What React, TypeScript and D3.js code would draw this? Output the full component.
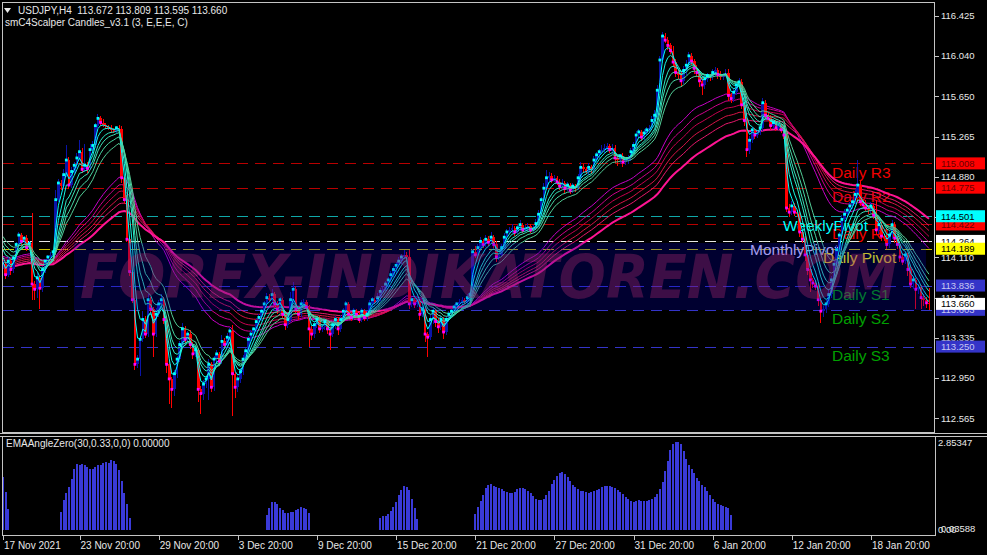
import React, { useEffect } from 'react';
import * as d3 from 'd3';

const W = 987;
const H = 555;

// ---------- price data (H4 closes) ----------
const firstOpen = 114.02;
const closes = [
  114.04, 113.94, 114.07, 113.99, 114.10, 114.23, 114.32, 114.26, 114.29, 114.20,
  114.24, 113.85, 113.80, 113.91, 113.81, 113.99, 114.07, 114.11, 114.13, 114.16,
  114.66, 114.82, 114.79, 114.90, 115.04, 114.80, 114.93, 114.99, 115.06, 115.12,
  114.95, 114.99, 114.96, 115.14, 115.18, 115.37, 115.44, 115.40, 115.38, 115.36,
  115.35, 115.33, 115.32, 115.35, 115.34, 114.87, 114.66, 114.28, 113.97, 113.70,
  113.08, 113.13, 113.32, 113.51, 113.37, 113.70, 113.61, 113.37, 113.56, 113.66,
  113.70, 113.51, 113.08, 112.94, 112.84, 112.99, 113.13, 113.27, 113.42, 113.32,
  113.37, 113.27, 113.18, 113.22, 112.84, 112.80, 112.89, 112.94, 113.08, 112.86,
  113.13, 113.18, 113.11, 113.30, 113.27, 113.34, 113.40, 112.99, 112.86, 112.94,
  113.01, 113.13, 113.21, 113.32, 113.37, 113.42, 113.49, 113.53, 113.59, 113.66,
  113.72, 113.70, 113.75, 113.66, 113.61, 113.70, 113.56, 113.46, 113.51, 113.70,
  113.80, 113.61, 113.56, 113.66, 113.68, 113.63, 113.42, 113.37, 113.46, 113.51,
  113.42, 113.44, 113.49, 113.42, 113.37, 113.46, 113.51, 113.42, 113.51, 113.59,
  113.66, 113.56, 113.53, 113.59, 113.56, 113.51, 113.59, 113.53, 113.56, 113.66,
  113.70, 113.68, 113.72, 113.78, 113.80, 113.85, 113.89, 113.94, 113.99, 114.03,
  114.07, 114.11, 114.13, 114.11, 113.66, 113.70, 113.66, 113.68, 113.56, 113.61,
  113.37, 113.34, 113.51, 113.59, 113.49, 113.44, 113.51, 113.39, 113.51, 113.56,
  113.59, 113.63, 113.66, 113.68, 113.70, 113.68, 113.72, 113.75, 114.16, 114.13,
  114.20, 114.26, 114.23, 114.28, 114.25, 114.30, 114.23, 114.11, 114.13, 114.20,
  114.30, 114.35, 114.37, 114.39, 114.35, 114.39, 114.42, 114.37, 114.39, 114.41,
  114.37, 114.39, 114.43, 114.52, 114.66, 114.77, 114.87, 114.89, 114.85, 114.87,
  114.83, 114.79, 114.82, 114.77, 114.80, 114.75, 114.79, 114.77, 114.87, 114.97,
  114.95, 114.93, 114.97, 114.95, 115.04, 115.09, 115.12, 115.14, 115.16, 115.17,
  115.14, 115.16, 115.06, 115.04, 115.08, 115.02, 115.04, 115.06, 115.12, 115.18,
  115.28, 115.31, 115.26, 115.30, 115.33, 115.35, 115.42, 115.47, 115.71, 116.00,
  116.23, 116.19, 116.14, 116.09, 115.98, 115.88, 115.86, 115.80, 115.90, 115.95,
  116.04, 115.99, 115.92, 115.88, 115.80, 115.76, 115.82, 115.85, 115.84, 115.88,
  115.90, 115.86, 115.84, 115.86, 115.88, 115.66, 115.63, 115.69, 115.76, 115.79,
  115.57, 115.42, 115.14, 115.23, 115.33, 115.28, 115.30, 115.35, 115.59, 115.47,
  115.44, 115.37, 115.40, 115.35, 115.37, 115.33, 115.28, 114.58, 114.54, 114.60,
  114.54, 114.52, 114.35, 114.28, 114.13, 113.99, 113.89, 113.86, 113.83, 113.70,
  113.59, 113.61, 113.66, 113.75, 113.89, 114.04, 114.18, 114.32, 114.47, 114.52,
  114.56, 114.60, 114.64, 114.71, 114.80, 114.64, 114.61, 114.58, 114.56, 114.60,
  114.51, 114.37, 114.42, 114.31, 114.29, 114.23, 114.32, 114.42, 114.29, 114.23,
  114.11, 114.07, 114.13, 113.99, 113.85, 113.89, 113.80, 113.82, 113.72, 113.70,
  113.67, 113.66,
];
// upper / lower wick lengths beyond the body, in 0.01 units
const hiExt = [
  3,2,4,2,3,2,3,2,2,3, 2,29,3,5,2,3,2,2,3,2, 9,4,3,5,14,3,4,3,5,11, 4,20,3,5,4,3,4,2,3,2,
  2,3,2,2,3,3,2,4,3,2, 2,4,3,8,3,5,3,2,6,4, 5,3,2,3,2,4,3,3,6,3, 3,4,2,3,2,3,4,3,5,2,
  3,4,2,6,3,4,3,6,2,3, 3,4,3,3,4,2,3,3,2,3, 4,3,5,2,3,3,2,3,4,7, 7,3,2,4,3,2,2,3,3,2,
  3,2,3,2,2,3,3,2,4,3, 3,2,2,3,2,2,3,2,3,4, 3,2,4,3,2,3,3,4,3,3, 4,3,5,3,7,3,2,3,2,3,
  2,2,4,3,2,3,3,2,3,3, 2,3,2,3,3,2,3,2,3,6, 3,4,2,4,3,5,2,3,2,3, 4,3,3,4,2,3,4,2,3,3,
  2,3,4,4,3,5,7,4,3,3, 2,3,4,2,3,2,3,2,4,5, 3,2,4,2,4,3,3,4,3,3, 2,3,2,3,2,3,2,3,4,3,
  4,3,2,4,3,3,4,5,5,4, 4,3,3,2,4,3,2,3,4,5, 4,3,2,3,2,3,4,3,2,3, 3,2,3,2,3,3,2,4,3,4,
  3,2,3,4,3,2,3,4,5,3, 2,3,3,2,3,2,3,2,4,5, 3,2,3,2,3,2,3,2,3,4, 2,3,4,5,4,3,4,3,4,5,
  3,4,3,5,24,4,3,5,3,4, 3,15,4,3,2,3,5,4,3,2, 3,4,3,2,3,4,2,3,2,3, 3,14,
];
const loExt = [
  3,4,2,5,3,2,3,4,2,3, 3,15,10,8,20,4,3,5,3,2, 3,2,4,3,2,4,3,2,3,2, 3,2,4,2,3,2,2,3,2,2,
  2,3,2,2,2,5,4,3,4,3, 5,4,16,3,4,3,4,22,3,3, 3,4,8,24,18,6,4,3,3,4, 3,4,5,3,12,20,6,4,20,5,
  4,3,5,3,4,2,3,41,10,5, 4,3,3,2,3,2,3,2,3,2, 3,2,3,4,5,3,4,5,3,2, 3,4,5,3,2,3,17,6,4,3,
  4,3,3,5,15,3,4,6,3,2, 3,4,3,2,4,3,2,3,3,2, 3,2,2,3,2,2,3,2,2,3, 2,3,2,3,5,3,4,3,5,3,
  8,19,3,4,5,6,3,7,3,2, 3,2,3,2,3,2,2,3,2,3, 2,3,3,2,3,2,3,5,3,2, 2,3,2,3,4,2,3,3,2,3,
  3,2,2,3,2,3,2,3,3,2, 3,4,3,5,3,4,3,4,2,3, 3,2,3,4,3,2,3,2,3,3, 3,4,5,6,4,5,3,4,3,2,
  2,3,4,3,2,3,2,3,2,3, 3,3,4,3,5,4,4,6,3,4, 3,4,5,4,6,10,4,3,4,3, 3,4,3,3,2,5,4,3,3,2,
  4,5,7,4,3,4,3,2,3,4, 3,4,3,3,2,3,4,4,5,3, 4,3,5,4,6,5,12,5,4,6, 11,6,4,3,3,2,3,2,3,2,
  3,2,3,2,3,4,3,3,4,3, 4,5,4,5,3,4,3,4,5,4, 5,4,3,6,4,5,19,5,11,6, 5,6,
];

// ---------- EMA ribbons ----------
const fastPeriods = [3, 5, 8, 10, 13, 17];
const fastSeeds = [114.08, 114.14, 114.22, 114.26, 114.30, 114.34];
const fastColors = ['#00ffff', '#19f5e0', '#2debc8', '#3de0b4', '#48d6a4', '#52cc96'];
const slowPeriods = [40, 47, 54, 62, 70, 84];
const slowSeeds = [114.12, 114.10, 114.08, 114.06, 114.04, 114.02];
const slowColors = ['#c800c8', '#d0008c', '#c80050', '#d81448', '#e8186c', '#ff1493'];

// ---------- EMAAngleZero histogram ----------
const angleSegStarts = [0, 22, 100, 143, 179];
const angleSeg0 = [1.73, 1.23, 0.68];
const angleSeg1 = [0.59, 0.97, 1.19, 1.38, 1.65, 1.98, 2.14, 2.10, 2.14, 2.12, 2.03, 1.99, 1.99, 2.03,
  2.12, 2.12, 2.17, 2.21, 2.16, 2.27, 2.24, 2.14, 1.95, 1.58, 1.19, 0.83, 0.39];
const angleSeg2 = [0.49, 0.72, 0.90, 0.90, 0.83, 0.72, 0.65, 0.54, 0.54, 0.57, 0.57, 0.65, 0.68, 0.76,
  0.70, 0.68, 0.54];
const angleSeg3 = [0.38, 0.45, 0.45, 0.51, 0.62, 0.75, 0.90, 1.12, 1.30, 1.42, 1.40, 1.30, 1.00, 0.70, 0.36];
const angleSeg4 = [
  0.52, 0.74, 0.94, 1.15, 1.35, 1.45, 1.49, 1.44, 1.40, 1.36,
  1.32, 1.28, 1.23, 1.21, 1.19, 1.24, 1.32, 1.37, 1.36, 1.33,
  1.28, 1.20, 1.10, 1.02, 0.96, 0.96, 1.02, 1.12, 1.28, 1.48,
  1.62, 1.76, 1.85, 1.87, 1.82, 1.72, 1.58, 1.46, 1.38, 1.32,
  1.28, 1.25, 1.22, 1.21, 1.23, 1.26, 1.30, 1.34, 1.38, 1.42,
  1.43, 1.43, 1.41, 1.36, 1.30, 1.24, 1.16, 1.08, 1.02, 0.95,
  0.92, 0.94, 0.97, 0.95, 0.93, 0.94, 0.98, 1.02, 1.08, 1.18,
  1.32, 1.55, 1.92, 2.25, 2.58, 2.80, 2.85, 2.85, 2.78, 2.55,
  2.30, 2.10, 1.98, 1.85, 1.70, 1.58, 1.47, 1.38, 1.28, 1.15,
  1.02, 0.92, 0.85, 0.80, 0.77, 0.73, 0.70, 0.50,
];
const angleMax = 2.85347;

// ---------- axes ----------
const priceTicks = [116.425, 116.040, 115.650, 115.265, 114.880, 114.495, 114.110, 113.720, 113.335, 112.950, 112.565];
const timeTickIdx = [0, 29, 59, 89, 119, 149, 179, 209, 239, 269, 299, 329];
const timeTickLabels = ['17 Nov 2021', '23 Nov 20:00', '29 Nov 20:00', '3 Dec 20:00', '9 Dec 20:00', '15 Dec 20:00',
  '21 Dec 20:00', '27 Dec 20:00', '31 Dec 20:00', '6 Jan 20:00', '12 Jan 20:00', '18 Jan 20:00'];

// ---------- pivot levels ----------
const pivotNames = ['Daily R3', 'Daily R2', 'Daily R1', 'WeeklyPivot', 'MonthlyPivot', 'Daily Pivot', 'Daily S1', 'Daily S2', 'Daily S3'];
const pivotValues = [115.008, 114.775, 114.422, 114.501, 114.264, 114.189, 113.836, 113.603, 113.250];
const pivotLineColors = ['#b80000', '#b80000', '#b80000', '#10a8a8', '#e6e6e6', '#c8c000', '#3434c8', '#3434c8', '#3434c8'];
const pivotTextColors = ['#f20000', '#f20000', '#f20000', '#00ffff', '#dcd0ff', '#ffff00', '#00a000', '#00a000', '#00a000'];
const pivotLabelX = [832, 832, 832, 783, 750, 823, 832, 832, 832];
const boxBg = ['#ff0000', '#ff0000', '#ff0000', '#00ffff', '#ffffff', '#ffff00', '#3434c8', '#3434c8', '#3434c8'];
const boxFg = ['#6a0000', '#6a0000', '#6a0000', '#000000', '#000000', '#000000', '#c8c8f0', '#c8c8f0', '#c8c8f0'];
const lastPrice = 113.660;

const FONT = '"Liberation Sans", Arial, sans-serif';

function emaSeries(period: number, seed: number): number[] {
  const a = 2 / (period + 1);
  let e = seed;
  return closes.map((c) => (e = e + a * (c - e)));
}

export default function App() {
  useEffect(() => {
    document.body.style.margin = '0';
    document.body.style.background = '#000';
  }, []);

  const n = closes.length;
  const x = d3.scaleLinear().domain([0, n - 1]).range([3, 929]);
  const y = d3.scaleLinear().domain([112.565, 116.425]).range([418, 15.7]);
  const yA = d3.scaleLinear().domain([0, angleMax]).range([530, 442]);

  const opens = closes.map((c, i) => (i === 0 ? firstOpen : closes[i - 1]));
  const highs = closes.map((c, i) => Math.max(c, opens[i]) + (hiExt[i] ?? 2) / 100);
  const lows = closes.map((c, i) => Math.min(c, opens[i]) - (loExt[i] ?? 2) / 100);

  const line = d3.line<number>().x((_, i) => x(i)).y((v) => y(v));
  const fast = fastPeriods.map((p, k) => emaSeries(p, fastSeeds[k]));
  const slow = slowPeriods.map((p, k) => emaSeries(p, slowSeeds[k]));

  const angle: number[] = new Array(n).fill(0);
  const segs = [angleSeg0, angleSeg1, angleSeg2, angleSeg3, angleSeg4];
  segs.forEach((s, k) => s.forEach((v, j) => { angle[angleSegStarts[k] + j] = v; }));

  const bull = '#0a14a8';
  const bear = '#ff0000';

  return (
    <svg width={W} height={H} style={{ position: 'absolute', left: 0, top: 0, display: 'block' }}
      xmlns="http://www.w3.org/2000/svg">
      <defs>
        <clipPath id="mainClip"><rect x={3} y={3} width={932} height={430} /></clipPath>
        <clipPath id="subClip"><rect x={3} y={437} width={932} height={98} /></clipPath>
      </defs>
      <rect x={0} y={0} width={W} height={H} fill="#000" />

      <g clipPath="url(#mainClip)">
        {/* pivot lines */}
        {pivotValues.map((v, k) => (
          <line key={'pl' + k} x1={3} x2={935} y1={Math.round(y(v)) + 0.5} y2={Math.round(y(v)) + 0.5}
            stroke={pivotLineColors[k]} strokeWidth={1} strokeDasharray="11,7" />
        ))}
        {/* pivot labels */}
        {pivotNames.map((name, k) => (
          <text key={'pt' + k} x={pivotLabelX[k]} y={y(pivotValues[k]) + 14.5} fill={pivotTextColors[k]}
            fontFamily={FONT} fontSize={15.5}>{name}</text>
        ))}

        {/* slow EMA ribbon */}
        {slow.map((s, k) => (
          <path key={'s' + k} d={line(s) || ''} fill="none" stroke={slowColors[k]}
            strokeWidth={k === slow.length - 1 ? 2 : 1} />
        ))}

        {/* candles */}
        {closes.map((c, i) => {
          const o = opens[i];
          const col = c >= o ? bull : bear;
          const cx = x(i);
          const top = y(Math.max(o, c));
          const bot = y(Math.min(o, c));
          return (
            <g key={'c' + i} fill={col} shapeRendering="crispEdges">
              <rect x={cx - 0.5} y={y(highs[i])} width={1} height={y(lows[i]) - y(highs[i])} />
              <rect x={cx - 1.3} y={top} width={2.6} height={Math.max(1, bot - top)} />
            </g>
          );
        })}

        {/* fast EMA ribbon */}
        {fast.map((s, k) => (
          <path key={'f' + k} d={line(s) || ''} fill="none" stroke={fastColors[k]} strokeWidth={1} />
        ))}

        {/* scalper dots */}
        {closes.map((c, i) => {
          const o = opens[i];
          if (Math.abs(c - o) < 0.03) return null;
          return (
            <rect key={'d' + i} x={x(i) - 1.4} y={y(c) - 1.4} width={2.8} height={2.8}
              fill={c > o ? '#00ffff' : '#ff00ff'} />
          );
        })}

        {/* watermark */}
        <rect x={74} y={243} width={852} height={67} fill="rgba(0,0,190,0.25)" />
        <text x={80} y={298} fontFamily='"DejaVu Sans", sans-serif' fontSize={60} fontStyle="italic"
          fontWeight={900} textLength={818} lengthAdjust="spacingAndGlyphs" fill="rgba(170,40,110,0.36)">
          FOREX-INDIKATOREN.COM
        </text>
      </g>

      {/* lower panel histogram */}
      <g clipPath="url(#subClip)">
        {angle.map((v, i) => (v > 0 ? (
          <rect key={'h' + i} x={x(i) - 1} y={yA(v)} width={2} height={530 - yA(v)} fill="#3a3ad8"
            shapeRendering="crispEdges" />
        ) : null))}
      </g>

      {/* frames */}
      <g stroke="#c4c4c4" strokeWidth={1} fill="none" shapeRendering="crispEdges">
        <rect x={2.5} y={2.5} width={932} height={430} />
        <line x1={0} x2={W} y1={433.5} y2={433.5} />
        <line x1={0} x2={W} y1={436.5} y2={436.5} />
        <line x1={2.5} x2={2.5} y1={436.5} y2={535.5} />
        <line x1={935.5} x2={935.5} y1={436.5} y2={535.5} />
        <line x1={2.5} x2={935.5} y1={535.5} y2={535.5} />
      </g>

      {/* header */}
      <path d="M4,8 L11,8 L7.5,13 Z" fill="#e8e8e8" />
      <text x={18} y={14} fill="#e8e8e8" fontFamily={FONT} fontSize={10} style={{ whiteSpace: 'pre' }}>
        {'USDJPY,H4  113.672 113.809 113.595 113.660'}
      </text>
      <text x={5} y={26} fill="#e8e8e8" fontFamily={FONT} fontSize={10}>smC4Scalper Candles_v3.1 (3, E,E,E, C)</text>
      <text x={6} y={447} fill="#e8e8e8" fontFamily={FONT} fontSize={10}>EMAAngleZero(30,0.33,0,0) 0.00000</text>

      {/* price axis */}
      {priceTicks.map((p) => (
        <g key={'pt' + p}>
          <line x1={935} x2={939} y1={Math.round(y(p)) + 0.5} y2={Math.round(y(p)) + 0.5} stroke="#c4c4c4" />
          <text x={941} y={y(p) + 3.6} fill="#e8e8e8" fontFamily={FONT} fontSize={9.5}>{p.toFixed(3)}</text>
        </g>
      ))}
      {pivotValues.map((v, k) => (
        <g key={'pb' + k}>
          <rect x={936} y={y(v) - 6} width={49} height={12} fill={boxBg[k]} />
          <text x={941} y={y(v) + 3.6} fill={boxFg[k]} fontFamily={FONT} fontSize={9.5}>{v.toFixed(3)}</text>
        </g>
      ))}
      <rect x={936} y={y(lastPrice) - 6} width={49} height={12} fill="#ffffff" />
      <text x={941} y={y(lastPrice) + 3.6} fill="#000" fontFamily={FONT} fontSize={9.5}>{lastPrice.toFixed(3)}</text>

      {/* indicator axis */}
      <text x={938} y={446} fill="#e8e8e8" fontFamily={FONT} fontSize={9.5}>{angleMax.toFixed(5)}</text>
      <text x={938} y={533} fill="#e8e8e8" fontFamily={FONT} fontSize={9.5}>0.00</text>
      <text x={941} y={532} fill="#e8e8e8" fontFamily={FONT} fontSize={9.5}>0.03588</text>

      {/* time axis */}
      {timeTickIdx.map((ti, k) => (
        <g key={'tt' + k}>
          <line x1={Math.round(x(ti)) + 0.5} x2={Math.round(x(ti)) + 0.5} y1={535} y2={540} stroke="#c4c4c4" />
          <text x={x(ti) + 1} y={549} fill="#e8e8e8" fontFamily={FONT} fontSize={10}>{timeTickLabels[k]}</text>
        </g>
      ))}
    </svg>
  );
}
